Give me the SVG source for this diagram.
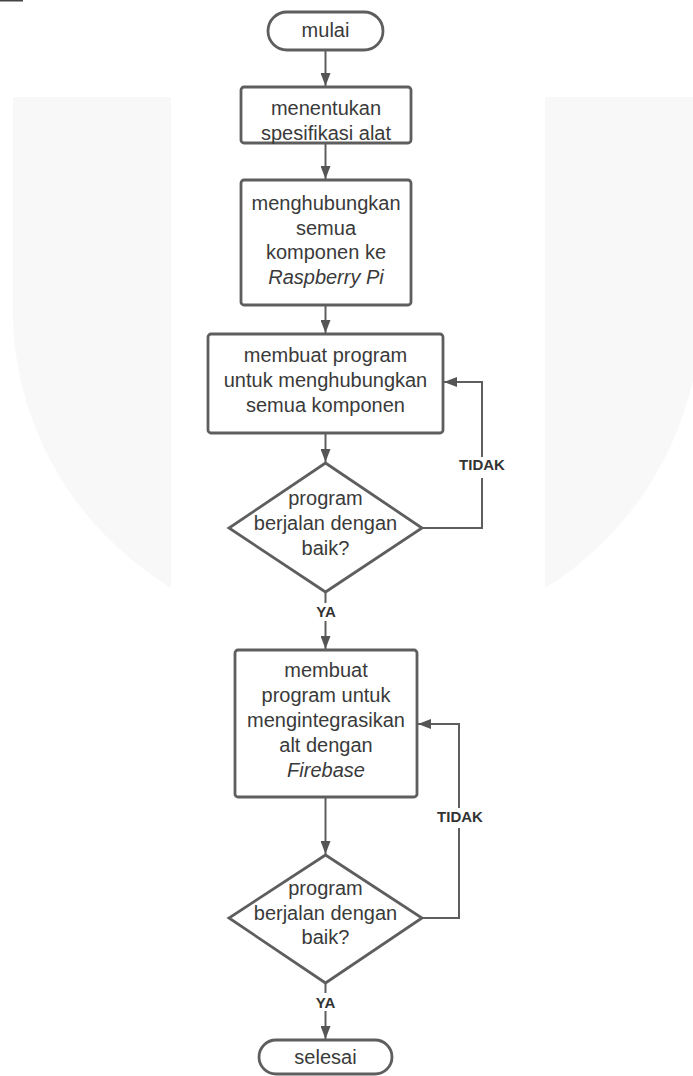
<svg xmlns="http://www.w3.org/2000/svg" width="693" height="1076" viewBox="0 0 693 1076">
<style>
.bg{fill:#f8f8f8}
.shape{fill:#ffffff;stroke:#5e5e5e;stroke-width:2.8}
.t{font-family:"Liberation Sans",Arial,sans-serif;font-size:20px;fill:#3a3a3a;text-anchor:middle}
.i{font-style:italic}
.lbl{font-family:"Liberation Sans",Arial,sans-serif;font-size:15px;font-weight:bold;fill:#333333;text-anchor:middle}
.con{fill:none;stroke:#5e5e5e;stroke-width:2}
.mask{fill:#ffffff}
</style>
<defs>
<marker id="ah" viewBox="0 0 13 10" refX="13" refY="5" markerWidth="13" markerHeight="10" markerUnits="userSpaceOnUse" orient="auto">
<path d="M0,0 L13,5 L0,10 z" fill="#555555"/>
</marker>
</defs>
<rect width="693" height="1076" fill="#ffffff"/>
<g id="watermark">
<path class="bg" d="M13,97 H171 V588 A340,329 0 0 1 13,300 Z"/>
<path class="bg" d="M545,97 H693 V380 A330,330 0 0 1 545,588 Z"/>
</g>
<rect x="0" y="0" width="23" height="1.5" fill="#444444"/>
<g id="connectors">
<line class="con" x1="325.5" y1="50" x2="325.5" y2="86" marker-end="url(#ah)"/>
<line class="con" x1="325.5" y1="143" x2="325.5" y2="179" marker-end="url(#ah)"/>
<line class="con" x1="325.5" y1="305" x2="325.5" y2="333" marker-end="url(#ah)"/>
<line class="con" x1="325.5" y1="433" x2="325.5" y2="462" marker-end="url(#ah)"/>
<line class="con" x1="325.5" y1="592" x2="325.5" y2="649" marker-end="url(#ah)"/>
<line class="con" x1="325.5" y1="797" x2="325.5" y2="854" marker-end="url(#ah)"/>
<line class="con" x1="325.5" y1="983" x2="325.5" y2="1039" marker-end="url(#ah)"/>
<path class="con" d="M422,528 H482 V382 H444" marker-end="url(#ah)"/>
<path class="con" d="M422,918 H459 V724 H418" marker-end="url(#ah)"/>
<rect class="mask" x="456" y="457" width="52" height="21"/>
<text class="lbl" x="482" y="470">TIDAK</text>
<rect class="mask" x="434" y="808" width="52" height="20"/>
<text class="lbl" x="460" y="822">TIDAK</text>
<rect class="mask" x="313" y="603" width="26" height="18"/>
<text class="lbl" x="326" y="617">YA</text>
<rect class="mask" x="313" y="993" width="26" height="18"/>
<text class="lbl" x="325.5" y="1008">YA</text>
</g>
<g id="mulai">
<rect class="shape" x="268" y="12" width="115" height="38" rx="19"/>
<text class="t" x="325.5" y="37">mulai</text>
</g>
<g id="spesifikasi">
<rect class="shape" x="241" y="87" width="170" height="56" rx="3"/>
<text class="t" x="326" y="115">menentukan</text>
<text class="t" x="326" y="140">spesifikasi alat</text>
</g>
<g id="hubungkan">
<rect class="shape" x="241" y="180" width="170" height="125" rx="3"/>
<text class="t" x="326" y="210">menghubungkan</text>
<text class="t" x="326" y="235">semua</text>
<text class="t" x="326" y="259">komponen ke</text>
<text class="t i" x="326" y="284">Raspberry Pi</text>
</g>
<g id="program1">
<rect class="shape" x="208" y="334" width="235" height="99" rx="3"/>
<text class="t" x="325.5" y="362">membuat program</text>
<text class="t" x="325.5" y="387">untuk menghubungkan</text>
<text class="t" x="325.5" y="412">semua komponen</text>
</g>
<g id="cek1">
<polygon class="shape" points="325.5,463 422,528 325.5,592 229,528"/>
<text class="t" x="325.5" y="505">program</text>
<text class="t" x="325.5" y="530">berjalan dengan</text>
<text class="t" x="325.5" y="555">baik?</text>
</g>
<g id="program2">
<rect class="shape" x="235" y="650" width="182" height="147" rx="3"/>
<text class="t" x="326" y="677">membuat</text>
<text class="t" x="326" y="702">program untuk</text>
<text class="t" x="326" y="727">mengintegrasikan</text>
<text class="t" x="326" y="752">alt dengan</text>
<text class="t i" x="326" y="777">Firebase</text>
</g>
<g id="cek2">
<polygon class="shape" points="325.5,855 422,918 325.5,983 229,918"/>
<text class="t" x="325.5" y="895">program</text>
<text class="t" x="325.5" y="920">berjalan dengan</text>
<text class="t" x="325.5" y="944">baik?</text>
</g>
<g id="selesai">
<rect class="shape" x="259" y="1040" width="133" height="34" rx="17"/>
<text class="t" x="325.5" y="1064">selesai</text>
</g>
</svg>
